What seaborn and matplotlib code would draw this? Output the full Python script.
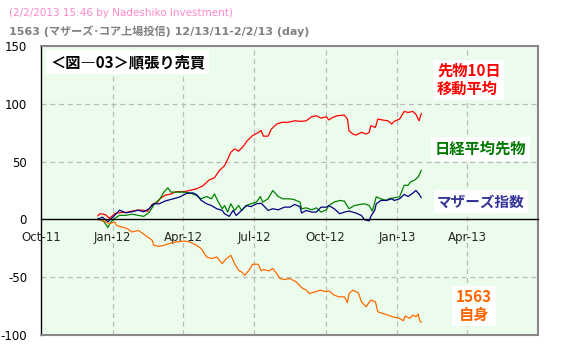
import matplotlib
matplotlib.use("Agg")
import matplotlib.pyplot as plt
import matplotlib.dates as mdates
import numpy as np
import pandas as pd
import seaborn as sns

# ---- data (cumulative P/L, points) ----
red_dates = ["2011-12-13", "2011-12-16", "2011-12-23", "2011-12-28", "2012-01-04", "2012-01-12",
             "2012-01-18", "2012-01-25", "2012-02-02", "2012-02-09", "2012-02-15", "2012-02-21",
             "2012-02-28", "2012-03-02", "2012-03-09", "2012-03-16", "2012-03-23", "2012-04-02",
             "2012-04-09", "2012-04-18", "2012-04-26", "2012-05-04", "2012-05-11", "2012-05-17",
             "2012-05-24", "2012-05-28", "2012-06-01", "2012-06-06", "2012-06-11", "2012-06-18",
             "2012-06-22", "2012-06-29", "2012-07-06", "2012-07-10", "2012-07-13", "2012-07-19",
             "2012-07-23", "2012-07-30", "2012-08-06", "2012-08-14", "2012-08-22", "2012-08-31",
             "2012-09-06", "2012-09-13", "2012-09-19", "2012-09-25", "2012-10-02", "2012-10-05",
             "2012-10-10", "2012-10-16", "2012-10-25", "2012-10-29", "2012-10-31", "2012-11-05",
             "2012-11-09", "2012-11-16", "2012-11-22", "2012-11-26", "2012-11-28", "2012-12-04",
             "2012-12-07", "2012-12-13", "2012-12-20", "2012-12-25", "2012-12-28", "2013-01-04",
             "2013-01-10", "2013-01-15", "2013-01-21", "2013-01-25", "2013-01-29", "2013-02-01"]
red_vals = [3, 5, 4, 1, 5, 6, 6, 7, 8, 8, 7, 13,
            15, 18, 21, 22, 24, 24, 25, 26.5, 29, 34, 36, 42,
            46.5, 52, 58, 61, 59, 64, 68, 72.5, 75, 77, 72, 72,
            78, 82.5, 84, 84, 85.3, 84.8, 85.3, 88.8, 89.7, 87.6, 88.8, 86,
            88.2, 89.7, 90.2, 86.8, 76.7, 73.8, 72.9, 75.3, 73.8, 75.3, 81, 79.6,
            86.8, 86, 85.3, 82.5, 84.8, 86.8, 93.4, 92.5, 93.4, 91, 85.3, 91.7]

green_dates = ["2011-12-13", "2011-12-21", "2011-12-26", "2011-12-29", "2012-01-04", "2012-01-10",
               "2012-01-18", "2012-01-26", "2012-02-03", "2012-02-10", "2012-02-17", "2012-02-24",
               "2012-03-02", "2012-03-07", "2012-03-12", "2012-03-16", "2012-03-22", "2012-04-02",
               "2012-04-09", "2012-04-18", "2012-04-24", "2012-05-01", "2012-05-07", "2012-05-11",
               "2012-05-15", "2012-05-21", "2012-05-24", "2012-05-28", "2012-06-01", "2012-06-06",
               "2012-06-11", "2012-06-15", "2012-06-21", "2012-06-27", "2012-07-04", "2012-07-09",
               "2012-07-12", "2012-07-19", "2012-07-25", "2012-08-01", "2012-08-07", "2012-08-16",
               "2012-08-22", "2012-08-29", "2012-08-31", "2012-09-06", "2012-09-13", "2012-09-19",
               "2012-09-25", "2012-10-02", "2012-10-05", "2012-10-12", "2012-10-19", "2012-10-25",
               "2012-10-31", "2012-11-07", "2012-11-14", "2012-11-20", "2012-11-26", "2012-11-30",
               "2012-12-05", "2012-12-11", "2012-12-18", "2012-12-21", "2012-12-28", "2013-01-04",
               "2013-01-10", "2013-01-15", "2013-01-18", "2013-01-23", "2013-01-28", "2013-02-01"]
green_vals = [1, -2, -7, -3, 1, 3.5, 3.5, 4.5, 3.5, 2.6, 6, 13.5,
              17.8, 23.6, 27.3, 23.6, 23.6, 23.6, 23, 20.7, 17.8, 19.8, 17.8, 22,
              16.4, 9.2, 12, 6.3, 13.5, 7.8, 12, 7.8, 12, 13.5, 15, 19.8,
              15, 17.8, 25, 19.8, 17.8, 17.8, 17, 15, 9.2, 10, 8.3, 10,
              6.3, 8.3, 12, 15, 16.4, 15.8, 9.2, 12, 12.9, 13.5, 12, 7.2,
              19.5, 17.8, 16.4, 17.8, 18.7, 19.5, 29.5, 29.5, 32.4, 33.8, 36.7, 42.5]

blue_dates = ["2011-12-13", "2011-12-19", "2011-12-26", "2012-01-04", "2012-01-10", "2012-01-18",
              "2012-01-26", "2012-02-03", "2012-02-10", "2012-02-17", "2012-02-23", "2012-03-01",
              "2012-03-09", "2012-03-19", "2012-03-27", "2012-04-05", "2012-04-13", "2012-04-18",
              "2012-04-24", "2012-05-01", "2012-05-07", "2012-05-14", "2012-05-21", "2012-05-24",
              "2012-05-30", "2012-06-04", "2012-06-08", "2012-06-15", "2012-06-21", "2012-06-27",
              "2012-07-04", "2012-07-10", "2012-07-13", "2012-07-19", "2012-07-25", "2012-08-01",
              "2012-08-09", "2012-08-16", "2012-08-22", "2012-08-29", "2012-08-31", "2012-09-06",
              "2012-09-13", "2012-09-19", "2012-09-25", "2012-10-02", "2012-10-05", "2012-10-12",
              "2012-10-19", "2012-10-25", "2012-10-31", "2012-11-09", "2012-11-16", "2012-11-20",
              "2012-11-26", "2012-11-28", "2012-12-03", "2012-12-05", "2012-12-11", "2012-12-18",
              "2012-12-25", "2012-12-28", "2013-01-04", "2013-01-10", "2013-01-15", "2013-01-21",
              "2013-01-25", "2013-01-29", "2013-02-01"]
blue_vals = [0, 2, -2, 3.7, 8, 5.7, 6.6, 8, 6.6, 9.3, 13.5, 13.5,
             16, 17.8, 19.3, 22.4, 23, 21.5, 16.4, 13.5, 12, 9.2, 7.8, 4.9,
             2.6, 7.8, 3.4, 7.8, 12, 11, 13.5, 14, 12, 7.8, 9.2, 8.3,
             10.6, 10.6, 12.9, 11, 5.5, 7.8, 6.3, 6.3, 10.6, 10.6, 12, 9.2,
             4.9, 6.3, 7.2, 5.5, 3.4, -0.3, -1.3, 2.6, 7.8, 13.5, 16.4, 16.4,
             17.8, 16.4, 17.8, 21.6, 19.8, 22.7, 25, 22, 18.7]

orange_dates = ["2011-12-13", "2011-12-21", "2011-12-28", "2012-01-04", "2012-01-06", "2012-01-13",
                "2012-01-20", "2012-01-26", "2012-02-03", "2012-02-08", "2012-02-15", "2012-02-21",
                "2012-02-23", "2012-03-01", "2012-03-07", "2012-03-16", "2012-03-23", "2012-04-03",
                "2012-04-09", "2012-04-18", "2012-04-24", "2012-05-01", "2012-05-07", "2012-05-14",
                "2012-05-21", "2012-05-25", "2012-06-01", "2012-06-06", "2012-06-11", "2012-06-15",
                "2012-06-19", "2012-06-25", "2012-06-29", "2012-07-06", "2012-07-10", "2012-07-13",
                "2012-07-20", "2012-07-25", "2012-07-30", "2012-08-03", "2012-08-09", "2012-08-16",
                "2012-08-20", "2012-08-24", "2012-08-31", "2012-09-06", "2012-09-10", "2012-09-18",
                "2012-09-24", "2012-10-01", "2012-10-05", "2012-10-12", "2012-10-18", "2012-10-25",
                "2012-10-29", "2012-10-31", "2012-11-05", "2012-11-12", "2012-11-16", "2012-11-22",
                "2012-11-28", "2012-12-04", "2012-12-07", "2012-12-13", "2012-12-20", "2012-12-26",
                "2013-01-04", "2013-01-09", "2013-01-11", "2013-01-17", "2013-01-21", "2013-01-25",
                "2013-01-28", "2013-01-30", "2013-02-01"]
orange_vals = [0, -1.4, -3.7, -2.3, -5.2, -6.6, -8, -10.9, -9.5, -11.8, -15.2, -18.1,
               -22.4, -23.3, -22.4, -20.4, -19.5, -18.7, -19.5, -22.4, -25.3, -32.5, -33.9, -32.5,
               -38.3, -34.8, -31, -38.3, -44, -45.5, -48.3, -43.4, -38.8, -38.8, -44.5, -43.4,
               -44.5, -42.5, -46.8, -51.1, -52, -51.1, -52.6, -54, -59, -61.2, -64.1, -62.6,
               -61.2, -62.6, -61.8, -65.5, -67, -67, -72.1, -64.1, -61.2, -63.5, -71.3, -75.6,
               -69.8, -71.3, -79.9, -81.3, -82.8, -84.2, -85.6, -87.7, -83.6, -85.6, -82.8, -84.2,
               -81.9, -87.7, -89.1]

series_names = ["futures_ma10", "nikkei_futures", "mothers_index", "etf_1563"]
series_colors = {"futures_ma10": "#ff0000", "nikkei_futures": "#008000",
                 "mothers_index": "#000080", "etf_1563": "#ff6a00"}

y_ticks = [-100, -50, 0, 50, 100, 150]
x_tick_dates = ["2011-10-01", "2012-01-01", "2012-04-01", "2012-07-01",
                "2012-10-01", "2013-01-01", "2013-04-01"]
x_tick_labels = ["Oct-11", "Jan-12", "Apr-12", "Jul-12", "Oct-12", "Jan-13", "Apr-13"]

frames = []
for name, d, v in [("futures_ma10", red_dates, red_vals),
                   ("nikkei_futures", green_dates, green_vals),
                   ("mothers_index", blue_dates, blue_vals),
                   ("etf_1563", orange_dates, orange_vals)]:
    frames.append(pd.DataFrame({"date": pd.to_datetime(d), "value": v, "series": name}))
df = pd.concat(frames, ignore_index=True)

# ---- figure ----
sns.set_style("white")
plt.rcParams["font.family"] = ["DejaVu Sans", "Noto Sans CJK JP"]
JP = ["Noto Sans CJK JP", "DejaVu Sans"]

W, H = 566, 349
fig = plt.figure(figsize=(W / 100, H / 100), dpi=100)
fig.patch.set_facecolor("white")
ax = fig.add_axes([41 / W, 1 - 335 / H, (538 - 41) / W, (335 - 46) / H])
ax.set_facecolor("#ecfcec")

sns.lineplot(data=df, x="date", y="value", hue="series", hue_order=series_names,
             palette=series_colors, linewidth=0.9, legend=False, ax=ax, sort=False,
             estimator=None)

ax.set_xlim(pd.Timestamp("2011-10-01"), pd.Timestamp("2013-07-01"))
ax.set_ylim(-100, 150)
ax.set_xlabel("")
ax.set_ylabel("")

# axes frame: black left axis, x axis through zero, grey outer border
ax.spines["left"].set_color("black")
ax.spines["left"].set_linewidth(1.0)
ax.spines["bottom"].set_position(("data", 0))
ax.spines["bottom"].set_color("black")
ax.spines["bottom"].set_linewidth(1.0)
for s in ["top", "right"]:
    ax.spines[s].set_color("#888888")
    ax.spines[s].set_linewidth(1.5)
ax.axhline(-100, color="#888888", linewidth=1.5, clip_on=False, zorder=5)

ax.set_yticks(y_ticks)
ax.set_yticklabels([str(t) for t in y_ticks])
ax.tick_params(axis="y", length=0, pad=10, labelsize=8.5, colors="black")

ax.set_xticks(pd.to_datetime(x_tick_dates))
ax.set_xticklabels(x_tick_labels)
ax.xaxis.set_minor_locator(mdates.MonthLocator())
ax.tick_params(axis="x", which="both", direction="out", length=3, width=0.8,
               color="black", labelsize=8.5, pad=5)

# dashed grid
ax.grid(False)
for yv in [50, 100, -50]:
    ax.axhline(yv, color="#bbbbbb", linestyle=(0, (4, 3)), linewidth=0.9, zorder=0.5)
for xd in x_tick_dates[1:]:
    ax.axvline(pd.Timestamp(xd), color="#bbbbbb", linestyle=(0, (4, 3)), linewidth=0.9, zorder=0.5)

# headings
fig.text(9 / W, 1 - 13 / H, "(2/2/2013 15:46 by Nadeshiko Investment)",
         color="#ff88cc", fontsize=7.5, va="center", ha="left", family=JP[::-1])
fig.text(9 / W, 1 - 31 / H, "1563 (マザーズ･コア上場投信) 12/13/11-2/2/13 (day)",
         color="#808080", fontsize=8, fontweight="bold", va="center", ha="left",
         family=["DejaVu Sans", "Noto Sans CJK JP"])

box = dict(facecolor="white", edgecolor="none", pad=2.5)
fig.text(50 / W, 1 - 62 / H, "＜図―03＞順張り売買", color="black", fontsize=11,
         fontweight="bold", va="center", ha="left", family=JP, bbox=box)

fig.text(437 / W, 1 - 80 / H, "先物10日\n移動平均", color="#ff0000", fontsize=11,
         fontweight="bold", va="center", ha="left", family=JP, linespacing=1.15, bbox=box)
fig.text(435 / W, 1 - 149 / H, "日経平均先物", color="#007700", fontsize=11,
         fontweight="bold", va="center", ha="left", family=JP, bbox=box)
fig.text(437 / W, 1 - 202 / H, "マザーズ指数", color="#333399", fontsize=10.5,
         fontweight="bold", va="center", ha="left", family=JP, bbox=box)
fig.text(474 / W, 1 - 306 / H, "1563\n自身", color="#ff6600", fontsize=11,
         fontweight="bold", va="center", ha="center", family=JP, linespacing=1.15, bbox=box)

fig.savefig("out.png", dpi=100, facecolor="white")
